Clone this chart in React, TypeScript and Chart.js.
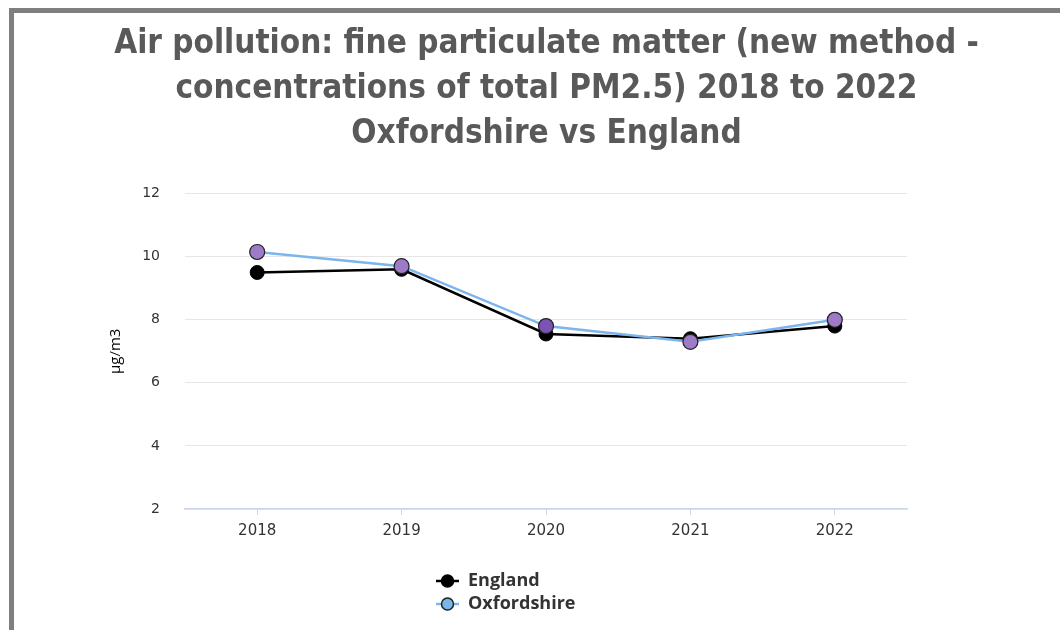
import React, { useEffect, useRef } from "react";
import { Chart, registerables } from "chart.js";

Chart.register(...registerables);

const titleLines = [
  "Air pollution: fine particulate matter (new method -",
  "concentrations of total PM2.5) 2018 to 2022",
  "Oxfordshire vs England",
];
const categories = ["2018", "2019", "2020", "2021", "2022"];
const englandValues = [9.5, 9.6, 7.55, 7.4, 7.8];
const oxfordshireValues = [10.15, 9.7, 7.8, 7.3, 8.0];
const yAxisTitle = "µg/m3";
const seriesNames = ["England", "Oxfordshire"];

const OX_LINE = "#7cb5ec";
const OX_POINT = "#9d7bc6";
const OX_POINT_DARK = "#7d52b5";

const legendPlugin = {
  id: "vertLegend",
  afterDraw(chart: any) {
    const ctx = chart.ctx;
    const items = [
      { name: seriesNames[0], line: "#000000", fill: "#000000", stroke: "#000000" },
      { name: seriesNames[1], line: OX_LINE, fill: OX_LINE, stroke: "#222222" },
    ];
    const x0 = 436;
    const y0 = 581;
    const gap = 23;
    ctx.save();
    items.forEach((it, i) => {
      const y = y0 + i * gap;
      ctx.strokeStyle = it.line;
      ctx.lineWidth = 2.5;
      ctx.beginPath();
      ctx.moveTo(x0, y);
      ctx.lineTo(x0 + 23, y);
      ctx.stroke();
      ctx.beginPath();
      ctx.arc(x0 + 11.5, y, 6, 0, Math.PI * 2);
      ctx.fillStyle = it.fill;
      ctx.fill();
      ctx.lineWidth = 1.5;
      ctx.strokeStyle = it.stroke;
      ctx.stroke();
      ctx.fillStyle = "#333333";
      ctx.font = "bold 18px 'Open Sans'";
      ctx.textBaseline = "middle";
      ctx.textAlign = "left";
      ctx.fillText(it.name, x0 + 32, y);
    });
    ctx.restore();
  },
};

export default function App() {
  const ref = useRef<HTMLCanvasElement | null>(null);
  useEffect(() => {
    if (!ref.current) return;
    const chart = new Chart(ref.current, {
      type: "line",
      data: {
        labels: categories,
        datasets: [
          {
            label: seriesNames[0],
            data: englandValues,
            borderColor: "#000000",
            backgroundColor: "#000000",
            pointBackgroundColor: "#000000",
            pointBorderColor: "#000000",
            pointBorderWidth: 1,
            pointRadius: 7,
            borderWidth: 2.5,
            tension: 0,
            order: 1,
          },
          {
            label: seriesNames[1],
            data: oxfordshireValues,
            borderColor: OX_LINE,
            backgroundColor: OX_LINE,
            pointBackgroundColor: [OX_POINT, OX_POINT, OX_POINT_DARK, OX_POINT, OX_POINT],
            pointBorderColor: "#222222",
            pointBorderWidth: 1.2,
            pointRadius: 7.5,
            borderWidth: 2.5,
            tension: 0,
            order: 0,
          },
        ],
      },
      options: {
        animation: false,
        responsive: false,
        layout: { padding: { left: 107, right: 74, top: 22, bottom: 83 } },
        plugins: {
          legend: { display: false },
          tooltip: { enabled: false },
          title: {
            display: true,
            text: titleLines,
            color: "#595959",
            font: { family: "'DejaVu Sans Condensed'", size: 33, weight: "bold", lineHeight: 1.36 },
            padding: { top: 0, bottom: 37 },
          },
        },
        scales: {
          x: {
            offset: true,
            grid: {
              offset: false,
              drawOnChartArea: false,
              drawTicks: true,
              tickLength: 6,
              color: "#ccd6eb",
            },
            border: { display: true, color: "#ccd6eb", width: 1.5 },
            ticks: {
              color: "#333333",
              font: { family: "'DejaVu Sans'", size: 15 },
              padding: 7,
            },
          },
          y: {
            min: 2,
            max: 12,
            ticks: {
              stepSize: 2,
              color: "#333333",
              font: { family: "'DejaVu Sans'", size: 14 },
              padding: 25,
            },
            grid: { color: "#e6e6e6", drawTicks: false, lineWidth: 1 },
            border: { display: false },
            title: {
              display: true,
              text: yAxisTitle,
              color: "#000000",
              font: { family: "'Open Sans'", size: 15 },
              padding: 0,
            },
            afterFit(scale: any) {
              scale.width = 78;
            },
          },
          yRight: {
            position: "right",
            display: true,
            ticks: { display: false },
            grid: { drawOnChartArea: false, drawTicks: false },
            border: { display: false },
            afterFit(scale: any) {
              scale.width = 79;
            },
          },
        },
      },
      plugins: [legendPlugin],
    });
    return () => chart.destroy();
  }, []);
  return (
    <div style={{ position: "fixed", left: 0, top: 0, width: 1060, height: 630, overflow: "hidden", background: "#fff" }}>
      <div
        style={{
          position: "absolute",
          left: 9,
          top: 8,
          width: 1200,
          height: 800,
          border: "5px solid #7f7f7f",
          boxSizing: "border-box",
        }}
      />
      <canvas ref={ref} width={1060} height={630} style={{ position: "absolute", left: 0, top: 0, display: "block" }} />
    </div>
  );
}
